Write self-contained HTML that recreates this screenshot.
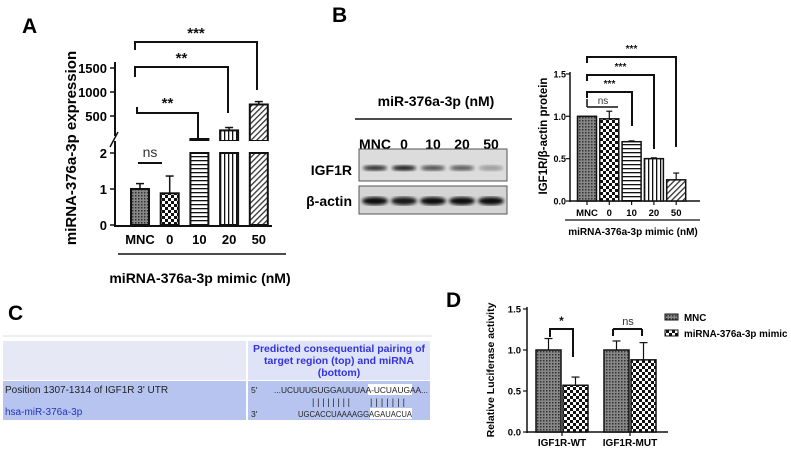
<!DOCTYPE html>
<html><head><meta charset="utf-8"><style>
html,body{margin:0;padding:0;background:#fff;width:791px;height:450px;overflow:hidden}
svg{display:block;font-family:"Liberation Sans",Arial,sans-serif}
</style></head><body>
<svg id="fig" width="791" height="450" viewBox="0 0 791 450" xmlns="http://www.w3.org/2000/svg">
<defs>
<pattern id="pGrid" width="3" height="3" patternUnits="userSpaceOnUse"><rect width="3" height="3" fill="#888"/><rect width="1.5" height="1.5" fill="#333"/></pattern>
<pattern id="pCheck" width="6" height="6" patternUnits="userSpaceOnUse"><rect width="6" height="6" fill="#fff"/><rect width="3" height="3" fill="#111"/><rect x="3" y="3" width="3" height="3" fill="#111"/></pattern>
<pattern id="pHoriz" width="4" height="4" patternUnits="userSpaceOnUse"><rect width="4" height="4" fill="#fff"/><rect width="4" height="1.3" fill="#111"/></pattern>
<pattern id="pVert" width="4" height="4" patternUnits="userSpaceOnUse"><rect width="4" height="4" fill="#fff"/><rect width="1.3" height="4" fill="#111"/></pattern>
<pattern id="pDiag" width="4" height="4" patternUnits="userSpaceOnUse" patternTransform="rotate(45)"><rect width="4" height="4" fill="#fff"/><rect width="1.3" height="4" fill="#333"/></pattern>
<filter id="blur"><feGaussianBlur stdDeviation="1.6"/></filter>
</defs>
<g id="gA"></g>
<g id="gB"></g>
<g id="gC"></g>
<g id="gD"></g>
</svg>
<script>
const NS="http://www.w3.org/2000/svg";
// Panel A data
const aCats=["MNC","0","10","20","50"];
const aVals=[1.0,0.88,20,200,740];
const aErr=[0.15,0.48,5,60,60];
const aFills=["url(#pGrid)","url(#pCheck)","url(#pHoriz)","url(#pVert)","url(#pDiag)"];
const aLowTicks=[0,1,2];
const aHighTicks=[500,1000,1500];
// Panel B data
const bCats=["MNC","0","10","20","50"];
const bVals=[1.0,0.97,0.70,0.50,0.25];
const bErr=[0.0,0.09,0.01,0.01,0.08];
const bTicks=[0.0,0.5,1.0,1.5];
const blotIGF=[0.85,0.95,0.7,0.65,0.35];
const blotActin=[1,0.95,1,1,1];
// Panel D data
const dGroups=["IGF1R-WT","IGF1R-MUT"];
const dMNC=[1.0,1.0];
const dMNCErr=[0.14,0.11];
const dMimic=[0.57,0.88];
const dMimicErr=[0.10,0.21];
const dTicks=[0.0,0.5,1.0,1.5];

function el(parent,tag,attrs,text){const e=document.createElementNS(NS,tag);for(const k in attrs)e.setAttribute(k,attrs[k]);if(text!==undefined)e.textContent=text;parent.appendChild(e);return e;}
function ln(p,x1,y1,x2,y2,w){return el(p,"line",{x1,y1,x2,y2,stroke:"#111","stroke-width":w||1.5});}
function bracket(p,x1,x2,y,d1,d2,label,ly,fs){
  const pl=el(p,"polyline",{points:`${x1},${y+d1} ${x1},${y} ${x2},${y} ${x2},${y+d2}`,fill:"none",stroke:"#111","stroke-width":2});
  
  
  const t=el(p,"text",{x:(x1+x2)/2,y:ly,"text-anchor":"middle","font-size":fs||13,"font-weight":"bold",fill:"#111"},label);
  
  
}

// ---------- Panel A ----------
(function(){
const g=document.getElementById("gA");
const t=el(g,"text",{x:22,y:33,"font-size":21,"font-weight":"bold"},"A");

const ax=115, yLow=v=>225-v*36, yHigh=v=>140-v*24/500;
const xC=i=>140+i*29.7, bw=18;
ln(g,ax,141,ax,227,2);ln(g,ax,62,ax,136,2);
el(g,"line",{x1:ax-5,y1:147,x2:ax+3,y2:132,stroke:"#111","stroke-width":1.5});
ln(g,ax,226,272,226,2);
aLowTicks.forEach(v=>{ln(g,ax-5,yLow(v),ax,yLow(v),1.5);const tt=el(g,"text",{x:ax-8,y:yLow(v)+5,"text-anchor":"end","font-size":13,"font-weight":"bold"},v);});
aHighTicks.forEach(v=>{ln(g,ax-5,yHigh(v),ax,yHigh(v),1.5);const tt=el(g,"text",{x:ax-8,y:yHigh(v)+5,"text-anchor":"end","font-size":13,"font-weight":"bold"},v);});
aVals.forEach((v,i)=>{
  const x=xC(i)-bw/2;
  if(v<=2){
    const r=el(g,"rect",{x,y:yLow(v),width:bw,height:225-yLow(v),fill:aFills[i],stroke:"#111","stroke-width":2});
    
    ln(g,xC(i),yLow(v),xC(i),yLow(v+aErr[i]),1.5);ln(g,xC(i)-4,yLow(v+aErr[i]),xC(i)+4,yLow(v+aErr[i]),1.5);
  }else{
    const r=el(g,"rect",{x,y:153,width:bw,height:72,fill:aFills[i],stroke:"#111","stroke-width":2});
    
    const yt=Math.min(yHigh(v),139);
    const r2=el(g,"rect",{x,y:yt,width:bw,height:141-yt,fill:aFills[i],stroke:"#111","stroke-width":2});
    
    const ye=yHigh(v+aErr[i]);ln(g,xC(i),yt,xC(i),ye,1.5);ln(g,xC(i)-4,ye,xC(i)+4,ye,1.5);
    el(g,"rect",{x:x-1,y:141,width:bw+2,height:11,fill:"#fff"});
  }
  const tl=el(g,"text",{x:xC(i),y:244,"text-anchor":"middle","font-size":13,"font-weight":"bold"},aCats[i]);
  
});
ln(g,118,254,286,254,1.5);
const xt=el(g,"text",{x:200,y:283,"text-anchor":"middle","font-size":14,"font-weight":"bold"},"miRNA-376a-3p mimic (nM)");

const yt=el(g,"text",{x:0,y:0,"text-anchor":"middle","font-size":15,"font-weight":"bold",transform:"translate(76,148) rotate(-90)"},"miRNA-376a-3p expression");

bracket(g,135,257,42,8,48,"***",38,15);
bracket(g,135,228,67,10,46,"**",63,15);
bracket(g,137,198,113,-6,25,"**",108,15);
ln(g,138,163,162,163,2);
const ns=el(g,"text",{x:150,y:157,"text-anchor":"middle","font-size":14,fill:"#333"},"ns");
})();

// ---------- Panel B ----------
(function(){
const g=document.getElementById("gB");
const t=el(g,"text",{x:332,y:22,"font-size":21,"font-weight":"bold"},"B");

const h=el(g,"text",{x:436,y:106,"text-anchor":"middle","font-size":14,"font-weight":"bold"},"miR-376a-3p (nM)");

ln(g,355,119,512,119,1.5);
const laneX=[375,404,433,462,491];
bCats.forEach((c,i)=>{const l=el(g,"text",{x:laneX[i],y:149,"text-anchor":"middle","font-size":14,"font-weight":"bold"},c);});
const b1=el(g,"rect",{x:359,y:149,width:148,height:32,fill:"#dcdcdc",stroke:"#555","stroke-width":1});

const b2=el(g,"rect",{x:359,y:186,width:148,height:28,fill:"#d4d4d4",stroke:"#555","stroke-width":1});

laneX.forEach((x,i)=>{
  const e=el(g,"ellipse",{cx:x,cy:168,rx:12,ry:2.6,fill:"#111","fill-opacity":blotIGF[i],filter:"url(#blur)"});
  
  const a=el(g,"ellipse",{cx:x,cy:201,rx:13,ry:4,fill:"#111","fill-opacity":blotActin[i],filter:"url(#blur)"});
  
});
const l1=el(g,"text",{x:352,y:175,"text-anchor":"end","font-size":14,"font-weight":"bold"},"IGF1R");
const l2=el(g,"text",{x:352,y:206,"text-anchor":"end","font-size":14,"font-weight":"bold"},"β-actin");
// chart
const ax=570,y=v=>201-v*84.7,xC=i=>587+i*22.3,bw=19;
ln(g,ax,72,ax,202,1.5);ln(g,ax,201,700,201,1.5);
bTicks.forEach(v=>{ln(g,ax-4,y(v),ax,y(v),1.2);const tt=el(g,"text",{x:ax-4,y:y(v)+3.5,"text-anchor":"end","font-size":9,"font-weight":"bold"},v.toFixed(1));});
bVals.forEach((v,i)=>{
  const r=el(g,"rect",{x:xC(i)-bw/2,y:y(v),width:bw,height:201-y(v),fill:aFills[i],stroke:"#111","stroke-width":1.5});
  
  if(bErr[i]>0){const ye=y(v+bErr[i]);ln(g,xC(i),y(v),xC(i),ye,1.2);ln(g,xC(i)-3,ye,xC(i)+3,ye,1.2);}
  ln(g,xC(i),201,xC(i),205,1.2);
  const tl=el(g,"text",{x:xC(i),y:216,"text-anchor":"middle","font-size":9.5,"font-weight":"bold"},bCats[i]);
});
ln(g,565,220,700,220,1.2);
const xt=el(g,"text",{x:633,y:235,"text-anchor":"middle","font-size":10,"font-weight":"bold"},"miRNA-376a-3p mimic (nM)");
const yt=el(g,"text",{x:0,y:0,"text-anchor":"middle","font-size":11.5,"font-weight":"bold",transform:"translate(547,136) rotate(-90)"},"IGF1R/β-actin protein");
bracket(g,587,676,57,6,90,"***",52,10);
bracket(g,587,654,75,6,74,"***",70,10);
bracket(g,587,632,92,6,34,"***",87,10);
ln(g,587,107,618,107,1.5);ln(g,587,99,587,107,1.5);
const ns=el(g,"text",{x:603,y:104,"text-anchor":"middle","font-size":10,fill:"#333"},"ns");
})();

// ---------- Panel C ----------
(function(){
const g=document.getElementById("gC");
const t=el(g,"text",{x:8,y:320,"font-size":21,"font-weight":"bold"},"C");

el(g,"line",{x1:3,y1:336,x2:432,y2:336,stroke:"#eee","stroke-width":2});
const h1=el(g,"rect",{x:3,y:341,width:243,height:39,fill:"#e6e8f6"});
const h2=el(g,"rect",{x:248,y:341,width:182,height:39,fill:"#dfe3f7"});
[["Predicted consequential pairing of",352],["target region (top) and miRNA",364],["(bottom)",376]].forEach(([s,yy])=>{const tt=el(g,"text",{x:339,y:yy,"text-anchor":"middle","font-size":10.5,"font-weight":"bold",fill:"#3333dd"},s);});
const r1=el(g,"rect",{x:3,y:381,width:243,height:39,fill:"#b7c4ef"});
const r2=el(g,"rect",{x:248,y:381,width:182,height:39,fill:"#b7c4ef"});
const p=el(g,"text",{x:5,y:393,"font-size":10,fill:"#222"},"Position 1307-1314 of IGF1R 3' UTR");
const m=el(g,"text",{x:5,y:415,"font-size":10,fill:"#2233bb"},"hsa-miR-376a-3p");
el(g,"rect",{x:368,y:384,width:44,height:11,fill:"#fff"});
el(g,"rect",{x:370,y:408,width:42,height:11,fill:"#fff"});
const p5=el(g,"text",{x:251,y:393,"font-size":8.5,fill:"#222"},"5'");
const s1=el(g,"text",{x:274,y:393,"font-size":8.5,fill:"#222",textLength:154,lengthAdjust:"spacingAndGlyphs"},"...UCUUUGUGGAUUUAA-UCUAUGAA...");
const s2a=el(g,"text",{x:312,y:405,"font-size":9,fill:"#222",textLength:38,lengthAdjust:"spacing"},"||||||||");
const s2b=el(g,"text",{x:370,y:405,"font-size":9,fill:"#222",textLength:35,lengthAdjust:"spacing"},"|||||||");
const p3=el(g,"text",{x:251,y:417,"font-size":8.5,fill:"#222"},"3'");
const s3=el(g,"text",{x:298,y:417,"font-size":8.5,fill:"#222",textLength:114,lengthAdjust:"spacingAndGlyphs"},"UGCACCUAAAAGGAGAUACUA");
})();

// ---------- Panel D ----------
(function(){
const g=document.getElementById("gD");
const t=el(g,"text",{x:446,y:307,"font-size":21,"font-weight":"bold"},"D");

const ax=527,y=v=>432-v*82,gC=i=>562+i*68,bw=25;
ln(g,ax,307,ax,433,1.5);ln(g,ax,432,668,432,1.5);
dTicks.forEach(v=>{ln(g,ax-4,y(v),ax,y(v),1.2);const tt=el(g,"text",{x:ax-6,y:y(v)+3.5,"text-anchor":"end","font-size":9.5,"font-weight":"bold"},v.toFixed(1));});
dGroups.forEach((gname,i)=>{
  const x0=gC(i)-bw-1,x1=gC(i)+1;
  const a=el(g,"rect",{x:x0,y:y(dMNC[i]),width:bw,height:432-y(dMNC[i]),fill:"url(#pGrid)",stroke:"#111","stroke-width":1.5});
  
  const b=el(g,"rect",{x:x1,y:y(dMimic[i]),width:bw,height:432-y(dMimic[i]),fill:"url(#pCheck)",stroke:"#111","stroke-width":1.5});
  
  const c0=x0+bw/2,c1=x1+bw/2;
  let ye=y(dMNC[i]+dMNCErr[i]);ln(g,c0,y(dMNC[i]),c0,ye,1.2);ln(g,c0-4,ye,c0+4,ye,1.2);
  ye=y(dMimic[i]+dMimicErr[i]);ln(g,c1,y(dMimic[i]),c1,ye,1.2);ln(g,c1-4,ye,c1+4,ye,1.2);
  ln(g,gC(i),432,gC(i),436,1.2);
  const tl=el(g,"text",{x:gC(i),y:446,"text-anchor":"middle","font-size":10,"font-weight":"bold"},gname);
});
bracket(g,550,573,329,8,28,"*",325,12);
ln(g,613,329,642,329,2);ln(g,613,329,613,336,2);ln(g,642,329,642,336,2);
const ns=el(g,"text",{x:628,y:325,"text-anchor":"middle","font-size":11,fill:"#333"},"ns");
const yt=el(g,"text",{x:0,y:0,"text-anchor":"middle","font-size":10.5,"font-weight":"bold",transform:"translate(494,370) rotate(-90)"},"Relative Luciferase activity");
const l1=el(g,"rect",{x:665,y:314,width:13,height:6,fill:"url(#pGrid)",stroke:"#111","stroke-width":1});
const l2=el(g,"rect",{x:665,y:330,width:13,height:6,fill:"url(#pCheck)",stroke:"#111","stroke-width":1});
const t1=el(g,"text",{x:684,y:321,"font-size":9.8,"font-weight":"bold"},"MNC");
const t2=el(g,"text",{x:684,y:337,"font-size":9.8,"font-weight":"bold"},"miRNA-376a-3p mimic");
})();
</script>
</body></html>
